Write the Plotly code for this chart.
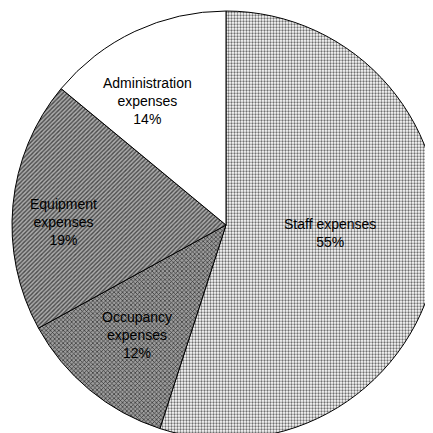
import math
import plotly.graph_objects as go

categories = ["Staff expenses", "Occupancy expenses", "Equipment expenses", "Administration expenses"]
display_labels = ["Staff expenses", "Occupancy<br>expenses", "Equipment<br>expenses", "Administration<br>expenses"]
values = [55, 12, 19, 14]

slice_bg = ["#ffffff", "#9c9c9c", "#acacac", "#ffffff"]
pattern_shapes = [".", "x", "/", ""]
pattern_fg = ["#707070", "#303030", "#4a4a4a", "#000000"]
pattern_size = [3, 3, 3, 4]
pattern_solidity = [0.45, 0.4, 0.45, 0.3]
label_radius_frac = [0.487, 0.66, 0.76, 0.685]
label_angle_offset_deg = [-4.6, -0.6, -4.4, -7.0]

dom_x = [0.0092, 0.9977]
dom_y = [0.0046, 0.9930]

fig = go.Figure(go.Pie(
    labels=categories,
    values=values,
    textinfo="none",
    sort=False,
    direction="clockwise",
    rotation=0,
    marker=dict(
        colors=slice_bg,
        line=dict(color="black", width=1),
        pattern=dict(shape=pattern_shapes, fgcolor=pattern_fg, bgcolor=slice_bg,
                     size=pattern_size, solidity=pattern_solidity, fillmode="replace"),
    ),
    domain=dict(x=dom_x, y=dom_y),
    hoverinfo="label+percent",
    showlegend=False,
))

# label annotations placed around each slice's mid-angle
total = sum(values)
cx = (dom_x[0] + dom_x[1]) / 2
cy = (dom_y[0] + dom_y[1]) / 2
rr = min(dom_x[1] - dom_x[0], dom_y[1] - dom_y[0]) / 2
cum = 0
for lab, v, f, off in zip(display_labels, values, label_radius_frac, label_angle_offset_deg):
    mid = (cum + v / 2) / total * 2 * math.pi + math.radians(off)
    cum += v
    fig.add_annotation(
        x=cx + f * rr * math.sin(mid), y=cy + f * rr * math.cos(mid),
        xref="paper", yref="paper", xanchor="center", yanchor="middle",
        showarrow=False,
        text=f"{lab}<br>{v}%", align="center",
        font=dict(family="Liberation Sans, Arial, sans-serif", size=14, color="black"),
    )

fig.update_layout(
    width=433, height=433,
    margin=dict(l=0, r=0, t=0, b=0),
    paper_bgcolor="white",
    plot_bgcolor="white",
    showlegend=False,
)

fig.write_html("out.html")
